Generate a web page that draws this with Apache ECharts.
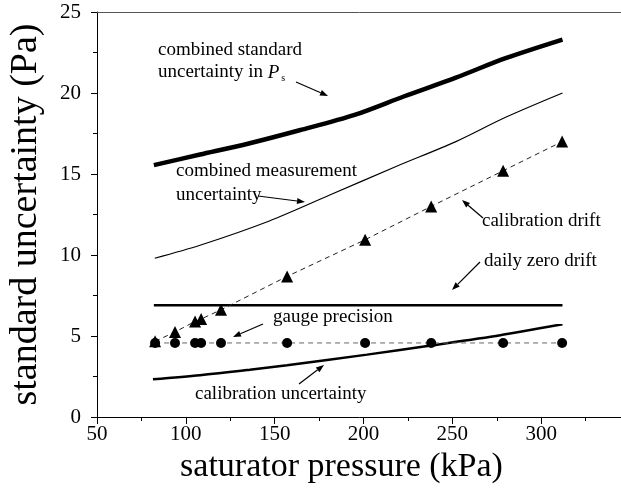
<!DOCTYPE html>
<html>
<head>
<meta charset="utf-8">
<script src="https://cdn.jsdelivr.net/npm/echarts@6/dist/echarts.min.js"></script>
<style>
  html, body { margin: 0; padding: 0; background: #fff; }
  #chart { width: 621px; height: 497px; }
</style>
</head>
<body>
<div id="chart"></div>
<script>
// combined standard uncertainty in Ps (thick line)
var combinedX = [82, 108, 136, 164, 195, 223, 252, 280, 312];
var combinedY = [15.55, 16.2, 16.9, 17.7, 18.65, 19.8, 20.95, 22.15, 23.3];

// combined measurement uncertainty (thin line)
var measX = [82.5, 108, 147, 181, 218, 252, 280, 312];
var measY = [9.8, 10.6, 12.1, 13.7, 15.45, 17.0, 18.5, 20.0];

// calibration uncertainty
var calX = [81.5, 108, 136, 157, 202, 237, 277, 312];
var calY = [2.33, 2.58, 2.92, 3.2, 3.85, 4.4, 5.05, 5.72];

// daily zero drift
var zeroX = [82, 312];
var zeroY = [6.9, 6.9];

// calibration points: calibration drift (triangles) and gauge precision (circles)
var pointX = [82.7, 93.9, 105.2, 108.6, 119.8, 157, 200.9, 238.1, 278.6, 311.8];
var driftY = [4.67, 5.25, 5.9, 6.05, 6.62, 8.68, 10.94, 13.0, 15.2, 17.0];
var gaugeY = [4.57, 4.57, 4.57, 4.57, 4.57, 4.57, 4.57, 4.57, 4.57, 4.57];

var xTicks = [50, 100, 150, 200, 250, 300];

function pairs(xs, ys) {
    var out = [];
    for (var i = 0; i < xs.length; i++) out.push([xs[i], ys[i]]);
    return out;
}

var serif = 'Liberation Serif';

// text placed by its left edge and vertical centre
function label(text, x, y) {
    return {
        type: 'text', left: x, top: y - 10,
        style: { text: text, font: '19px "Liberation Serif"', fill: '#000' }
    };
}

function arrow(x1, y1, x2, y2) {
    var a = Math.atan2(y2 - y1, x2 - x1);
    var L = 8, W = 3;
    var bx = x2 - L * Math.cos(a), by = y2 - L * Math.sin(a);
    var px = -Math.sin(a) * W, py = Math.cos(a) * W;
    return {
        type: 'group',
        children: [
            { type: 'line', shape: { x1: x1, y1: y1, x2: bx, y2: by }, style: { stroke: '#000', lineWidth: 1.2 } },
            { type: 'polygon', shape: { points: [[x2, y2], [bx + px, by + py], [bx - px, by - py]] }, style: { fill: '#000' } }
        ]
    };
}

var myChart = echarts.init(document.getElementById('chart'));

var option = {
    backgroundColor: '#fff',
    animation: false,
    grid: { left: 97, right: -9, top: 12, bottom: 80, containLabel: false, outerBoundsMode: 'none' },
    xAxis: [{
        type: 'value', min: 50, max: 350, interval: 50,
        name: 'saturator pressure (kPa)', nameLocation: 'middle', nameGap: 30,
        nameTextStyle: { fontFamily: serif, fontSize: 34, color: '#000', padding: [0, 44, 0, 0] },
        axisLine: { lineStyle: { color: '#000', width: 1 } },
        axisTick: { inside: false, length: 7, lineStyle: { color: '#000' } },
        minorTick: { show: true, splitNumber: 2, length: 4, lineStyle: { color: '#000' } },
        axisLabel: {
            fontFamily: serif, fontSize: 21, color: '#000', margin: 7,
            formatter: function (v) { return xTicks.indexOf(v) >= 0 ? String(v) : ''; }
        },
        splitLine: { show: false }
    }, {
        type: 'value', position: 'top', min: 50, max: 350,
        axisLine: { lineStyle: { color: '#555', width: 1 } },
        axisTick: { show: false }, axisLabel: { show: false }, splitLine: { show: false }
    }],
    yAxis: {
        type: 'value', min: 0, max: 25, interval: 5,
        name: 'standard uncertainty (Pa)', nameLocation: 'middle', nameGap: 52,
        nameTextStyle: { fontFamily: serif, fontSize: 38, color: '#000' },
        axisLine: { show: true, lineStyle: { color: '#000', width: 1 } },
        axisTick: { show: true, inside: false, length: 6, lineStyle: { color: '#000' } },
        minorTick: { show: true, splitNumber: 2, length: 4, lineStyle: { color: '#000' } },
        axisLabel: { fontFamily: serif, fontSize: 21, color: '#000', margin: 16 },
        splitLine: { show: false }
    },
    series: [
        {
            type: 'line', data: pairs(combinedX, combinedY), smooth: 0.3, showSymbol: false,
            lineStyle: { color: '#000', width: 4.5 }
        },
        {
            type: 'line', data: pairs(measX, measY), smooth: 0.3, showSymbol: false,
            lineStyle: { color: '#000', width: 1.2 }
        },
        {
            type: 'line', data: pairs(calX, calY), smooth: 0.3, showSymbol: false,
            lineStyle: { color: '#000', width: 2.5 }
        },
        {
            type: 'line', data: pairs(zeroX, zeroY), showSymbol: false,
            lineStyle: { color: '#000', width: 2.5 }
        },
        {
            type: 'line', data: pairs(pointX, gaugeY), symbol: 'circle', symbolSize: 10,
            itemStyle: { color: '#000' },
            lineStyle: { color: '#666', width: 1, type: [5, 4] }
        },
        {
            type: 'line', data: pairs(pointX, driftY), symbol: 'triangle', symbolSize: 12,
            itemStyle: { color: '#000' },
            lineStyle: { color: '#222', width: 1, type: [5, 4] }
        }
    ],
    graphic: [
        label('combined standard', 158, 51),
        {
            type: 'text', left: 158, top: 63,
            style: {
                text: 'uncertainty in {p|P}{s|s}',
                font: '19px "Liberation Serif"', fill: '#000',
                rich: {
                    p: { fontFamily: serif, fontSize: 19, fontStyle: 'italic' },
                    s: { fontFamily: serif, fontSize: 10, verticalAlign: 'bottom', padding: [12, 0, 0, 2] }
                }
            }
        },
        arrow(296, 82, 328, 96),
        label('combined measurement', 176, 172),
        label('uncertainty', 176, 196),
        arrow(258, 196, 305, 202),
        label('calibration drift', 482, 222),
        arrow(483, 218, 462, 200),
        label('daily zero drift', 484, 262),
        arrow(480, 262, 452, 290),
        label('gauge precision', 273, 318),
        arrow(263, 324, 233, 337),
        label('calibration uncertainty', 195, 395),
        arrow(299, 384, 324, 365)
    ]
};

myChart.setOption(option);
</script>
</body>
</html>
